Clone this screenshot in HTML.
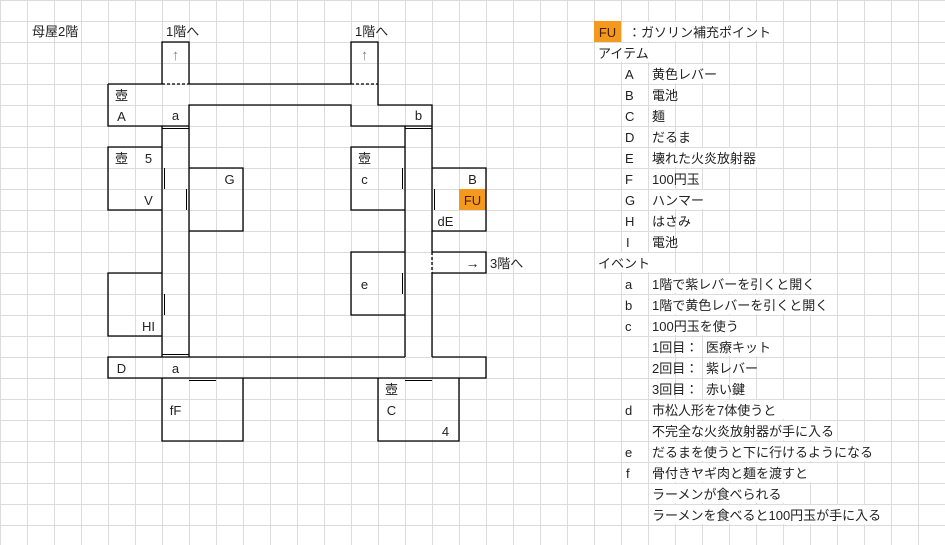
<!DOCTYPE html>
<html><head><meta charset="utf-8"><style>
html,body{margin:0;padding:0;background:#fff}
svg{display:block}
text{font-family:"Liberation Sans","Noto Sans CJK JP",sans-serif;font-size:13px;fill:#222}
.m{text-anchor:middle}
</style></head><body>
<svg width="945" height="545" viewBox="0 0 945 545" xmlns="http://www.w3.org/2000/svg">
<defs><pattern id="g" width="27" height="21" patternUnits="userSpaceOnUse">
<path d="M0.5 0V21M0 0.5H27" stroke="#dcdcdc" stroke-width="1" fill="none"/></pattern></defs>
<rect width="945" height="545" fill="#fff"/>
<rect width="945" height="545" fill="url(#g)"/>

<g fill="#fff">
<rect x="622" y="22" width="160" height="19"/>
<rect x="595" y="43" width="60" height="19"/>
<rect x="649" y="64" width="70" height="19"/>
<rect x="649" y="148" width="112" height="19"/>
<rect x="649" y="190" width="56" height="19"/>
<rect x="595" y="253" width="56" height="19"/>
<rect x="649" y="274" width="170" height="19"/>
<rect x="649" y="295" width="184" height="19"/>
<rect x="649" y="316" width="100" height="19"/>
<rect x="703" y="337" width="72" height="19"/>
<rect x="649" y="400" width="140" height="19"/>
<rect x="649" y="421" width="170" height="19"/>
<rect x="649" y="442" width="232" height="19"/>
<rect x="649" y="463" width="170" height="19"/>
<rect x="649" y="484" width="140" height="19"/>
<rect x="649" y="505" width="240" height="19"/>
</g>

<rect x="459" y="189" width="27" height="21" fill="#f39a1e"/>
<rect x="594" y="21" width="27" height="21" fill="#f39a1e"/>

<g stroke="#000" stroke-width="1.3" fill="none">
<path d="M108 84H162M189 84H351"/>
<path d="M162 84H189M351 84H378" stroke-dasharray="3,2"/>
<path d="M162 84V42H189V84M351 84V42H378V84"/>
<path d="M162 126H108V84"/>
<path d="M162 126H189"/>
<path d="M189 126V105H351V126H405M405 126H432M432 126V105H378V84"/>
<path d="M162 126V357M189 126V357"/>
<path d="M162 147H108V210H162M189 168H243V231H189M162 273H108V336H162"/>
<path d="M405 126V357M432 126V252M432 273V357"/>
<path d="M432 252V273" stroke-dasharray="3,2"/>
<path d="M405 147H351V210H405M432 168H486V231H432M432 252H486V273H432M405 252H351V315H405"/>
<path d="M162 357H108V378H486V357H432M189 357H405"/>
<path d="M162 357H189"/>
<path d="M162 378V441H243V378M378 378V441H459V378"/>
</g>
<g stroke="#000" stroke-width="1" fill="none">
<path d="M162 128.5H189M405 128.5H432"/>
<path d="M164.5 168V189M164.5 294V315M186.5 189V210"/>
<path d="M402.5 168V189M402.5 273V294M434.5 189V210"/>
<path d="M162 354.5H189M189 380.5H216M405 380.5H432"/>
</g>

<text x="32" y="36">母屋2階</text>
<text x="166" y="36">1階へ</text>
<text x="355" y="36">1階へ</text>
<text x="175.5" y="60" class="m" style="fill:#888;font-size:15px">↑</text>
<text x="364.5" y="60" class="m" style="fill:#888;font-size:15px">↑</text>
<text x="121.5" y="100" class="m">壺</text>
<text x="121.5" y="121" class="m">A</text>
<text x="175.5" y="120" class="m">a</text>
<text x="418.5" y="120" class="m">b</text>
<text x="121.5" y="163" class="m">壺</text>
<text x="148.5" y="163" class="m">5</text>
<text x="148.5" y="205" class="m">V</text>
<text x="229.5" y="184" class="m">G</text>
<text x="364.5" y="163" class="m">壺</text>
<text x="364.5" y="184" class="m">c</text>
<text x="472.5" y="184" class="m">B</text>
<text x="472.5" y="205" class="m" style="fill:#4a1d00">FU</text>
<text x="445.5" y="226" class="m">dE</text>
<text x="472.5" y="268" class="m" style="font-size:14px">→</text>
<text x="490" y="268">3階へ</text>
<text x="364.5" y="289" class="m">e</text>
<text x="148.5" y="331" class="m">HI</text>
<text x="121.5" y="373" class="m">D</text>
<text x="175.5" y="373" class="m">a</text>
<text x="175.5" y="415" class="m">fF</text>
<text x="391.5" y="394" class="m">壺</text>
<text x="391.5" y="415" class="m">C</text>
<text x="445.5" y="436" class="m">4</text>

<text x="607.5" y="37" class="m" style="fill:#4a1d00">FU</text>
<text x="628" y="37">：ガソリン補充ポイント</text>
<text x="598" y="58">アイテム</text>
<text x="625" y="79">A</text><text x="652" y="79">黄色レバー</text>
<text x="625" y="100">B</text><text x="652" y="100">電池</text>
<text x="625" y="121">C</text><text x="652" y="121">麺</text>
<text x="625" y="142">D</text><text x="652" y="142">だるま</text>
<text x="625" y="163">E</text><text x="652" y="163">壊れた火炎放射器</text>
<text x="625" y="184">F</text><text x="652" y="184">100円玉</text>
<text x="625" y="205">G</text><text x="652" y="205">ハンマー</text>
<text x="625" y="226">H</text><text x="652" y="226">はさみ</text>
<text x="626" y="247">I</text><text x="652" y="247">電池</text>
<text x="598" y="268">イベント</text>
<text x="625" y="289">a</text><text x="652" y="289">1階で紫レバーを引くと開く</text>
<text x="625" y="310">b</text><text x="652" y="310">1階で黄色レバーを引くと開く</text>
<text x="625" y="331">c</text><text x="652" y="331">100円玉を使う</text>
<text x="652" y="352">1回目：</text><text x="706" y="352">医療キット</text>
<text x="652" y="373">2回目：</text><text x="706" y="373">紫レバー</text>
<text x="652" y="394">3回目：</text><text x="706" y="394">赤い鍵</text>
<text x="625" y="415">d</text><text x="652" y="415">市松人形を7体使うと</text>
<text x="652" y="436">不完全な火炎放射器が手に入る</text>
<text x="625" y="457">e</text><text x="652" y="457">だるまを使うと下に行けるようになる</text>
<text x="626" y="478">f</text><text x="652" y="478">骨付きヤギ肉と麺を渡すと</text>
<text x="652" y="499">ラーメンが食べられる</text>
<text x="652" y="520">ラーメンを食べると100円玉が手に入る</text>
</svg>
</body></html>
